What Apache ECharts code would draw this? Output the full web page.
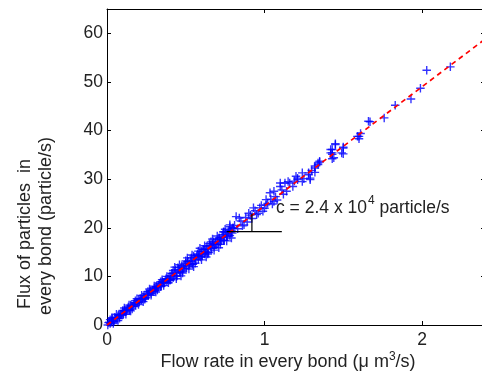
<!DOCTYPE html>
<html><head><meta charset="utf-8">
<script src="https://cdn.jsdelivr.net/npm/echarts@6/dist/echarts.min.js"></script>
<style>html,body{margin:0;padding:0;background:#fff;overflow:hidden;width:482px;height:378px}#c{width:492px;height:378px}</style>
</head><body><div id="c"></div>
<script>
// Dense band (set A)
const flowA = [0.01,0.02,0.03,0.04,0.05,0.06,0.07,0.08,0.09,0.10,0.11,0.12,0.13,0.14,0.15,0.16,0.17,0.18,0.19,0.20,0.21,0.22,0.23,0.24,0.25,0.26,0.27,0.28,0.29,0.30,0.31,0.32,0.33,0.34,0.35,0.36,0.37,0.38,0.39,0.40,0.41,0.42,0.43,0.44,0.45,0.46,0.47,0.48,0.49,0.50,0.51,0.52,0.53,0.54,0.55,0.56,0.57,0.58,0.59,0.60,0.61,0.62,0.63,0.64,0.65,0.66,0.67,0.68,0.69,0.70,0.71,0.72,0.73,0.74,0.75,0.76,0.77,0.78,0.79,0.80];
const fluxA = [0.5,0.3,0.8,0.6,1.6,1.4,1.9,1.7,2.2,2.7,3.0,2.7,3.3,3.0,4.1,3.8,4.3,4.1,4.6,5.2,5.4,5.2,5.7,5.5,6.5,6.2,6.8,6.5,7.1,7.6,7.9,7.6,8.2,7.9,8.9,8.7,9.2,9.0,9.5,10.1,10.6,9.7,10.7,10.0,11.8,10.9,11.9,11.1,12.1,12.7,13.0,12.2,13.1,12.5,14.2,13.4,14.3,13.6,14.5,15.1,15.5,14.6,15.6,14.9,16.7,15.8,16.7,16.0,16.9,17.6,17.9,17.1,18.0,17.4,19.1,18.2,19.2,18.4,19.4,20.0];
// Dense band (set B)
const flowB = [0.005,0.015,0.025,0.035,0.045,0.055,0.065,0.075,0.085,0.095,0.105,0.115,0.125,0.135,0.145,0.155,0.165,0.175,0.185,0.195,0.205,0.215,0.225,0.235,0.245,0.255,0.265,0.275,0.285,0.295,0.305,0.315,0.325,0.335,0.345,0.355,0.365,0.375,0.385,0.395,0.405,0.415,0.425,0.435,0.445,0.455,0.465,0.475,0.485,0.495,0.505,0.515,0.525,0.535,0.545,0.555,0.565,0.575,0.585,0.595,0.605,0.615,0.625,0.635,0.645,0.655,0.665,0.675,0.685,0.695,0.705,0.715,0.725,0.735,0.745,0.755,0.765,0.775,0.785,0.795];
const fluxB = [0.0,0.6,0.5,1.3,0.7,1.4,1.4,2.1,2.1,2.0,2.3,3.0,3.0,3.7,3.1,3.9,3.8,4.6,4.5,4.5,4.7,5.4,5.4,6.1,5.6,6.3,6.3,7.0,7.0,6.9,7.1,7.9,7.8,8.6,8.0,8.8,8.7,9.5,9.4,9.3,9.3,10.6,10.2,11.3,10.1,11.4,10.9,12.2,11.7,11.6,11.7,13.1,12.6,13.8,12.5,13.8,13.4,14.6,14.2,14.0,14.2,15.5,15.1,16.2,14.9,16.3,15.8,17.1,16.6,16.5,16.6,17.9,17.5,18.6,17.4,18.7,18.3,19.5,19.1,18.9];
// Dense band edges (set D)
const flowD = [0.02,0.04,0.06,0.08,0.10,0.12,0.14,0.16,0.18,0.20,0.22,0.24,0.26,0.28,0.30,0.32,0.34,0.36,0.38,0.40,0.42,0.44,0.46,0.48,0.50,0.52,0.54,0.56,0.58,0.60,0.62,0.64,0.66,0.68,0.70,0.72,0.74,0.76,0.78];
const fluxD = [1.1,0.3,2.2,1.4,3.0,2.2,4.1,3.3,5.0,4.2,6.1,5.3,6.9,6.1,8.0,7.2,8.9,8.1,10.0,9.2,11.2,9.5,12.4,10.7,13.2,11.5,14.4,12.7,15.2,13.4,16.3,14.6,17.1,15.4,18.3,16.6,19.1,17.3,20.2];
// Dense band outer edges (set E)
const flowE = [0.03,0.07,0.11,0.15,0.19,0.23,0.27,0.31,0.35,0.39,0.43,0.47,0.51,0.55,0.59,0.63,0.67,0.71,0.75,0.79];
const fluxE = [1.5,0.9,3.5,2.9,5.4,4.8,7.4,6.8,9.3,8.7,11.9,10.1,13.8,12.0,15.8,14.0,17.7,15.9,19.7,17.9];
// Scattered upper part
const flowC = [0.74,0.78,0.80,0.81,0.82,0.83,0.84,0.85,0.86,0.87,0.88,0.89,0.90,0.91,0.92,0.93,0.94,0.95,0.96,0.97,0.98,0.99,1.00,1.01,1.01,1.02,1.035,1.04,1.05,1.06,1.06,1.07,1.08,1.10,1.10,1.11,1.12,1.13,1.14,1.15,1.16,1.18,1.19,1.20,1.21,1.21,1.24,1.24,1.25,1.28,1.28,1.29,1.29,1.30,1.32,1.32,1.32,1.34,1.34,1.35,1.35,1.42,1.42,1.43,1.43,1.43,1.43,1.44,1.45,1.45,1.49,1.50,1.50,1.50,1.59,1.60,1.60,1.61,1.66,1.67,1.76,1.83,1.93,1.99,2.03,2.18];
const fluxC = [19.2,20.6,19.9,20.5,22.3,19.8,22.0,21.4,20.4,20.6,22.1,21.2,23.0,22.6,21.9,24.1,23.5,22.7,23.0,24.1,24.6,23.4,24.0,24.7,25.8,25.0,27.2,25.9,24.9,25.4,27.5,26.4,25.7,28.5,29.2,27.8,26.9,29.2,27.5,29.5,29.2,28.5,29.6,30.6,30.2,29.9,29.5,31.3,30.1,31.3,30.9,29.9,30.2,31.8,32.3,32.7,31.4,33.3,33.0,33.7,33.5,36.1,35.4,35.4,36.1,35.1,34.2,34.4,37.1,37.3,35.4,36.6,35.2,36.4,38.8,38.8,38.3,39.4,41.9,41.8,42.6,45.2,46.5,48.7,52.4,53.1];
// Fitted line
const fitX = [0, 2.4];
const fitY = [0, 58.8];
// Slope annotation
const annoHX = [0.76, 1.11];
const annoHY = [19.2, 19.2];
const annoVX = [0.92, 0.92];
const annoVY = [19.2, 22.9];
const xTicks = [0, 1, 2];
const yTicks = [0, 10, 20, 30, 40, 50, 60];

const zip = (a, b) => a.map((v, i) => [v, b[i]]);
const pts = zip(flowA, fluxA).concat(zip(flowB, fluxB), zip(flowD, fluxD), zip(flowE, fluxE), zip(flowC, fluxC));
const plus = 'path://M3.35,0H4.65V3.35H8V4.65H4.65V8H3.35V4.65H0V3.35H3.35Z';
const F = 'Liberation Sans, Arial, Helvetica, sans-serif';
const TC = '#222';

const chart = echarts.init(document.getElementById('c'), null, {renderer: 'canvas'});
const axisCommon = {
  axisLine: {show: true, onZero: false, lineStyle: {color: '#000', width: 1}},
  axisTick: {show: true, inside: true, length: 4, lineStyle: {color: '#000'}},
  splitLine: {show: false}
};
chart.setOption({
  animation: false,
  grid: {left: 107, top: 9, width: 378, height: 316, show: false},
  xAxis: [
    Object.assign({type: 'value', min: 0, max: 2.4, interval: 1, position: 'bottom',
      axisLabel: {color: TC, fontSize: 17.5, fontFamily: F, margin: 6,
        formatter: v => xTicks.includes(v) ? String(v) : ''}}, axisCommon),
    Object.assign({type: 'value', min: 0, max: 2.4, interval: 1, position: 'top',
      axisLabel: {show: false}}, axisCommon)
  ],
  yAxis: [
    Object.assign({type: 'value', min: 0, max: 65, interval: 10, position: 'left',
      axisLabel: {color: TC, fontSize: 17.5, fontFamily: F, margin: 4,
        formatter: v => yTicks.includes(v) ? String(v) : ''}}, axisCommon),
    Object.assign({type: 'value', min: 0, max: 65, interval: 10, position: 'right',
      axisLabel: {show: false}}, axisCommon)
  ],
  series: [
    {type: 'scatter', data: pts, symbol: plus, symbolSize: 8.5,
      itemStyle: {color: '#0000ff'}},
    {type: 'line', data: zip(fitX, fitY), symbol: 'none',
      lineStyle: {color: '#ff0000', width: 1.7, type: [5, 4]}},
    {type: 'line', data: zip(annoHX, annoHY), symbol: 'none',
      lineStyle: {color: '#000', width: 1.2}},
    {type: 'line', data: zip(annoVX, annoVY), symbol: 'none',
      lineStyle: {color: '#000', width: 1.2}}
  ],
  graphic: [
    {type: 'text', left: 276, top: 195, style: {
      text: '{a|c = 2.4 x 10}{s|4}{a| particle/s}',
      rich: {a: {fontSize: 17.5, fontFamily: F, fill: TC, verticalAlign: 'bottom', lineHeight: 22},
             s: {fontSize: 12, fontFamily: F, fill: TC, verticalAlign: 'top', lineHeight: 22, padding: [0,0,11,1]}}}},
    {type: 'text', x: 288, y: 362, style: {
      text: '{a|Flow rate in every bond (μ m}{s|3}{a|/s)}', align: 'center', verticalAlign: 'middle',
      rich: {a: {fontSize: 18, fontFamily: F, fill: TC, lineHeight: 22},
             s: {fontSize: 12, fontFamily: F, fill: TC, lineHeight: 22, padding: [0,0,11,0]}}}},
    {type: 'text', x: 25, y: 234, rotation: Math.PI / 2, style: {
      text: 'Flux of particles  in', align: 'center', verticalAlign: 'middle',
      fontSize: 18, fontFamily: F, fill: TC}},
    {type: 'text', x: 46, y: 226, rotation: Math.PI / 2, style: {
      text: 'every bond (particle/s)', align: 'center', verticalAlign: 'middle',
      fontSize: 18, fontFamily: F, fill: TC}}
  ]
});
</script></body></html>
